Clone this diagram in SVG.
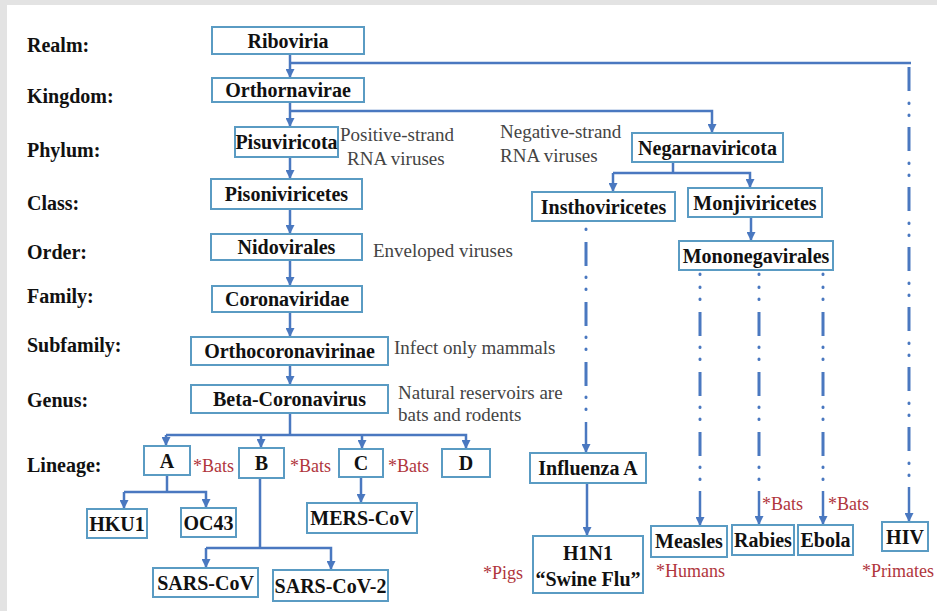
<svg xmlns="http://www.w3.org/2000/svg" width="937" height="611" viewBox="0 0 937 611">
<style>
.bg{fill:#ffffff}
.frame{fill:#e3e3e3}
.box{fill:#ffffff;stroke:#5a9bc3;stroke-width:2}
.nt{font-family:'Liberation Serif','DejaVu Serif',serif;font-weight:bold;font-size:20px;fill:#111;text-anchor:middle}
.lbl{font-family:'Liberation Serif','DejaVu Serif',serif;font-weight:bold;font-size:20px;fill:#111}
.ann{font-family:'Liberation Serif','DejaVu Serif',serif;font-size:19px;fill:#444}
.red{font-family:'Liberation Serif','DejaVu Serif',serif;font-size:18px;fill:#b0363c}
.c{fill:none;stroke:#4a78c0;stroke-width:2.5}
.dash{fill:none;stroke:#4a78c0;stroke-width:3}
.dot{fill:none;stroke:#4a78c0;stroke-width:3;stroke-linecap:round}
</style>
<defs>
<marker id="ah" markerUnits="userSpaceOnUse" markerWidth="9" markerHeight="9" refX="8" refY="4.5" orient="auto">
<path d="M0,0 L9,4.5 L0,9 z" fill="#4a78c0"/>
</marker>
</defs>
<rect class="bg" x="0" y="0" width="937" height="611"/>
<rect class="frame" x="0" y="0" width="937" height="5"/>
<rect class="frame" x="0" y="0" width="7" height="611"/>

<g id="rank-labels">
<text class="lbl" x="27" y="52">Realm:</text>
<text class="lbl" x="27" y="103">Kingdom:</text>
<text class="lbl" x="27" y="157">Phylum:</text>
<text class="lbl" x="27" y="210">Class:</text>
<text class="lbl" x="27" y="259">Order:</text>
<text class="lbl" x="27" y="303">Family:</text>
<text class="lbl" x="27" y="352">Subfamily:</text>
<text class="lbl" x="27" y="407">Genus:</text>
<text class="lbl" x="27" y="472">Lineage:</text>
</g>

<g id="connectors">
<path class="c" d="M290,54 V77" marker-end="url(#ah)"/>
<path class="c" d="M290,63 H911"/>
<path class="dash" d="M909,67V91 M909,127V151 M909,187V211 M909,247V271 M909,307V331 M909,367V391 M909,427V451"/>
<path class="dot" d="M909,103v0.5 M909,115v0.5 M909,163v0.5 M909,175v0.5 M909,223v0.5 M909,235v0.5 M909,283v0.5 M909,295v0.5 M909,343v0.5 M909,355v0.5 M909,403v0.5 M909,415v0.5 M909,463v0.5 M909,475v0.5"/>
<path class="c" d="M909,487 V521" marker-end="url(#ah)"/>
<path class="c" d="M290,101 V126" marker-end="url(#ah)"/>
<path class="c" d="M290,111 H712 V132" marker-end="url(#ah)"/>
<path class="c" d="M290,157 V178" marker-end="url(#ah)"/>
<path class="c" d="M290,209 V233" marker-end="url(#ah)"/>
<path class="c" d="M290,260 V285" marker-end="url(#ah)"/>
<path class="c" d="M290,312 V336" marker-end="url(#ah)"/>
<path class="c" d="M290,365 V384" marker-end="url(#ah)"/>
<path class="c" d="M290,413 V435"/>
<path class="c" d="M166,435 H466 V448" marker-end="url(#ah)"/>
<path class="c" d="M166,435 V445" marker-end="url(#ah)"/>
<path class="c" d="M261,435 V447" marker-end="url(#ah)"/>
<path class="c" d="M362,435 V448" marker-end="url(#ah)"/>
<path class="c" d="M167,475 V492"/>
<path class="c" d="M124,492 H206 V507" marker-end="url(#ah)"/>
<path class="c" d="M124,492 V508" marker-end="url(#ah)"/>
<path class="c" d="M260,478 V548"/>
<path class="c" d="M206,548 H331 V569" marker-end="url(#ah)"/>
<path class="c" d="M206,548 V567" marker-end="url(#ah)"/>
<path class="c" d="M361,477 V502" marker-end="url(#ah)"/>
<path class="c" d="M673,162 V173"/>
<path class="c" d="M613,173 H750 V187" marker-end="url(#ah)"/>
<path class="c" d="M613,173 V191" marker-end="url(#ah)"/>
<path class="c" d="M751,217 V240" marker-end="url(#ah)"/>
<path class="dash" d="M586,242V266 M586,302V326 M586,362V386"/>
<path class="dot" d="M586,229v0.5 M586,277v0.5 M586,289v0.5 M586,337v0.5 M586,349v0.5 M586,397v0.5 M586,409v0.5"/>
<path class="c" d="M586,422 V452" marker-end="url(#ah)"/>
<path class="dash" d="M700,312V336 M700,372V396 M700,432V456 M759,312V336 M759,372V396 M759,432V456 M823,312V336 M823,372V396 M823,432V456"/>
<path class="dot" d="M700,274v0.5 M700,287v0.5 M700,299v0.5 M700,347v0.5 M700,359v0.5 M700,407v0.5 M700,419v0.5 M700,467v0.5 M700,479v0.5 M759,274v0.5 M759,287v0.5 M759,299v0.5 M759,347v0.5 M759,359v0.5 M759,407v0.5 M759,419v0.5 M759,467v0.5 M759,479v0.5 M823,274v0.5 M823,287v0.5 M823,299v0.5 M823,347v0.5 M823,359v0.5 M823,407v0.5 M823,419v0.5 M823,467v0.5 M823,479v0.5"/>
<path class="c" d="M700,491 V525" marker-end="url(#ah)"/>
<path class="c" d="M759,491 V524" marker-end="url(#ah)"/>
<path class="c" d="M823,491 V524" marker-end="url(#ah)"/>
<path class="c" d="M587,483 V535" marker-end="url(#ah)"/>
</g>

<g id="n-riboviria"><rect class="box" x="212" y="27" width="152" height="27"/><text class="nt" x="288" y="48">Riboviria</text></g>
<g id="n-orthornavirae"><rect class="box" x="212" y="78" width="152" height="24"/><text class="nt" x="288" y="97">Orthornavirae</text></g>
<g id="n-pisuviricota"><rect class="box" x="235" y="127" width="103" height="30"/><text class="nt" x="286.5" y="149">Pisuviricota</text></g>
<g id="n-pisoniviricetes"><rect class="box" x="211" y="179" width="151" height="30"/><text class="nt" x="286.5" y="201">Pisoniviricetes</text></g>
<g id="n-nidovirales"><rect class="box" x="211" y="234" width="151" height="26"/><text class="nt" x="286.5" y="254">Nidovirales</text></g>
<g id="n-coronaviridae"><rect class="box" x="212" y="286" width="150" height="26"/><text class="nt" x="287" y="306">Coronaviridae</text></g>
<g id="n-orthocoronavirinae"><rect class="box" x="191" y="337" width="197" height="28"/><text class="nt" x="289.5" y="358">Orthocoronavirinae</text></g>
<g id="n-betacoronavirus"><rect class="box" x="191" y="385" width="197" height="28"/><text class="nt" x="289.5" y="406">Beta-Coronavirus</text></g>
<g id="n-a"><rect class="box" x="144" y="446" width="46" height="29"/><text class="nt" x="167" y="468">A</text></g>
<g id="n-b"><rect class="box" x="239" y="448" width="45" height="30"/><text class="nt" x="261.5" y="470">B</text></g>
<g id="n-c"><rect class="box" x="339" y="449" width="44" height="28"/><text class="nt" x="361" y="470">C</text></g>
<g id="n-d"><rect class="box" x="442" y="449" width="48" height="28"/><text class="nt" x="466" y="470">D</text></g>
<g id="n-hku1"><rect class="box" x="87" y="509" width="60" height="29"/><text class="nt" x="117" y="531">HKU1</text></g>
<g id="n-oc43"><rect class="box" x="181" y="508" width="55" height="29"/><text class="nt" x="208.5" y="530">OC43</text></g>
<g id="n-merscov"><rect class="box" x="307" y="503" width="110" height="30"/><text class="nt" x="362" y="525">MERS-CoV</text></g>
<g id="n-sarscov"><rect class="box" x="153" y="568" width="105" height="29"/><text class="nt" x="205.5" y="590">SARS-CoV</text></g>
<g id="n-sarscov2"><rect class="box" x="273" y="570" width="115" height="31"/><text class="nt" x="330.5" y="593">SARS-CoV-2</text></g>
<g id="n-negarnaviricota"><rect class="box" x="632" y="133" width="151" height="29"/><text class="nt" x="707.5" y="155">Negarnaviricota</text></g>
<g id="n-insthoviricetes"><rect class="box" x="532" y="192" width="143" height="29"/><text class="nt" x="603.5" y="214">Insthoviricetes</text></g>
<g id="n-monjiviricetes"><rect class="box" x="688" y="188" width="134" height="29"/><text class="nt" x="755" y="210">Monjiviricetes</text></g>
<g id="n-mononegavirales"><rect class="box" x="679" y="241" width="154" height="29"/><text class="nt" x="756" y="263">Mononegavirales</text></g>
<g id="n-influenza"><rect class="box" x="530" y="453" width="116" height="30"/><text class="nt" x="588" y="475">Influenza A</text></g>
<g id="n-h1n1"><rect class="box" x="533" y="536" width="110" height="57"/><text class="nt" x="588" y="560">H1N1</text><text class="nt" x="588" y="586">“Swine Flu”</text></g>
<g id="n-measles"><rect class="box" x="651" y="526" width="76" height="31"/><text class="nt" x="689" y="548">Measles</text></g>
<g id="n-rabies"><rect class="box" x="732" y="525" width="62" height="30"/><text class="nt" x="763" y="547">Rabies</text></g>
<g id="n-ebola"><rect class="box" x="798" y="525" width="55" height="30"/><text class="nt" x="825.5" y="547">Ebola</text></g>
<g id="n-hiv"><rect class="box" x="882" y="522" width="46" height="29"/><text class="nt" x="905" y="544">HIV</text></g>

<g id="annotations">
<text class="ann" x="340" y="141">Positive-strand</text>
<text class="ann" x="347" y="165">RNA viruses</text>
<text class="ann" x="500" y="138">Negative-strand</text>
<text class="ann" x="500" y="162">RNA viruses</text>
<text class="ann" x="373" y="257">Enveloped viruses</text>
<text class="ann" x="394" y="354">Infect only mammals</text>
<text class="ann" x="398" y="399">Natural reservoirs are</text>
<text class="ann" x="398" y="421">bats and rodents</text>
<text class="red" x="193" y="472">*Bats</text>
<text class="red" x="290" y="472">*Bats</text>
<text class="red" x="388" y="472">*Bats</text>
<text class="red" x="483" y="579">*Pigs</text>
<text class="red" x="656" y="577">*Humans</text>
<text class="red" x="762" y="510">*Bats</text>
<text class="red" x="828" y="510">*Bats</text>
<text class="red" x="862" y="577">*Primates</text>
</g>
</svg>
